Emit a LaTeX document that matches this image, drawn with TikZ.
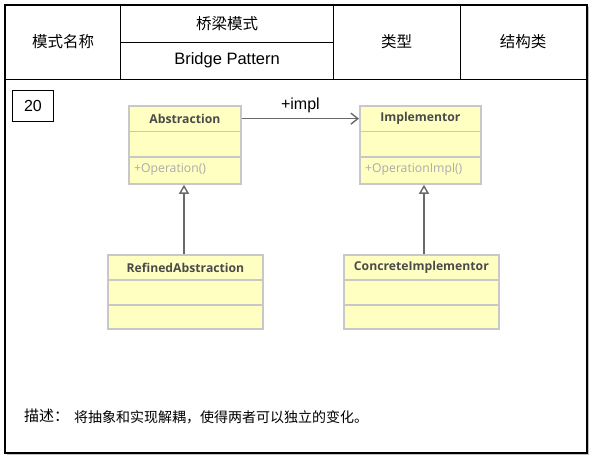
\documentclass[tikz,border=0pt]{standalone}
\usepackage{fontspec}
\setmainfont{Liberation Sans}
\newfontfamily\cjk{Noto Sans CJK SC}
\newfontfamily\umlfont{Open Sans}
\usetikzlibrary{arrows.meta}
\definecolor{umlfill}{HTML}{FFFFC2}
\definecolor{umlline}{HTML}{C8C8C8}
\definecolor{umltext}{HTML}{4A4A4A}
\definecolor{optext}{HTML}{AAAAAA}
\definecolor{conn}{HTML}{6A6A6A}
\tikzset{
  cell/.style={inner sep=0pt, text=black},
  comp/.style={draw=umlline, fill=umlfill, line width=1.8pt, minimum height=25.5pt, inner sep=0pt, anchor=north west, rectangle},
  ttl/.style={comp, font=\umlfont\bfseries\fontsize{12.2}{14}\selectfont, text=umltext},
  optxt/.style={inner sep=0pt, anchor=west, font=\umlfont\fontsize{12.2}{14}\selectfont, text=optext},
  assoc/.style={draw=conn, line width=1.6pt, -{Straight Barb[length=7pt,width=11pt,line width=1.4pt]}},
  inherit/.style={draw=conn, line width=1.6pt, -{Triangle[open, length=9pt, width=10pt, line width=1.4pt]}}
}
\begin{document}
\begin{tikzpicture}[x=1pt,y=-1pt]
\useasboundingbox (0,0) rectangle (590,459);
% shadow and frame
\fill[black!25] (7,7) rectangle (589,455);
\node[draw=black, fill=white, line width=1.5pt, minimum width=582pt, minimum height=448pt, anchor=north west, inner sep=0pt] (frame) at (4,4) {};
% header lines
\coordinate (hl) at (4,79);
\coordinate (hr) at (586,79);
\draw[line width=1pt] (hl) -- (hr);
\draw[line width=1pt] (120,4) -- (120,79);
\draw[line width=1pt] (333,4) -- (333,79);
\draw[line width=1pt] (460,4) -- (460,79);
\draw[line width=1pt] (120,42) -- (333,42);
% header texts
\node[cell, font=\cjk\fontsize{15.5}{18}\selectfont] (h1) at (63,42) {模式名称};
\node[cell, font=\cjk\fontsize{15.5}{18}\selectfont] (h2) at (227,23.5) {桥梁模式};
\node[cell, font=\fontsize{16.5}{18}\selectfont] (h3) at (227,60.5) {Bridge Pattern};
\node[cell, font=\cjk\fontsize{15.5}{18}\selectfont] (h4) at (396.5,42) {类型};
\node[cell, font=\cjk\fontsize{15.5}{18}\selectfont] (h5) at (523,42) {结构类};
% number box
\node[draw=black, line width=1pt, minimum width=41pt, minimum height=31pt, inner sep=0pt, anchor=north west, font=\fontsize{16}{18}\selectfont] (num) at (12,89.5) {20};
% Abstraction
\node[ttl, minimum width=112pt] (abs) at (128,105) {Abstraction};
\node[comp, minimum width=112pt] (absA) at (128,130.5) {};
\node[comp, minimum width=112pt, minimum height=27pt] (absO) at (128,156) {};
\node[optxt] (absOp) at (134,169.5) {+Operation()};
% Implementor
\node[ttl, minimum width=121pt] (imp) at (359,105) {Implementor};
\node[comp, minimum width=121pt] (impA) at (359,130.5) {};
\node[comp, minimum width=121pt, minimum height=27pt] (impO) at (359,156) {};
\node[optxt] (impOp) at (365,169.5) {+OperationImpl()};
% RefinedAbstraction
\node[ttl, minimum width=155pt, minimum height=25pt] (ref) at (107,254) {RefinedAbstraction};
\node[comp, minimum width=155pt, minimum height=25pt] (refA) at (107,279) {};
\node[comp, minimum width=155pt, minimum height=24pt] (refO) at (107,304) {};
% ConcreteImplementor
\node[ttl, minimum width=155pt, minimum height=25pt] (con) at (343,254) {ConcreteImplementor};
\node[comp, minimum width=155pt, minimum height=25pt] (conA) at (343,279) {};
\node[comp, minimum width=155pt, minimum height=24pt] (conO) at (343,304) {};
% connectors
\draw[assoc] (abs.east) -- (imp.west) node[midway, above=5pt, inner sep=0pt, text=black, font=\fontsize{16}{18}\selectfont] (lbl) {+impl};
\draw[inherit] (ref.north -| 184,0) -- (absO.south -| 184,0);
\draw[inherit] (con.north -| 424,0) -- (impO.south -| 424,0);
% description
\node[cell, anchor=west, font=\cjk\fontsize{15}{18}\selectfont] (desc) at (24,416) {描述：};
\node[cell, anchor=west, font=\cjk\fontsize{14}{16}\selectfont] (desct) at (74,417) {将抽象和实现解耦，使得两者可以独立的变化。};
\end{tikzpicture}
\end{document}
